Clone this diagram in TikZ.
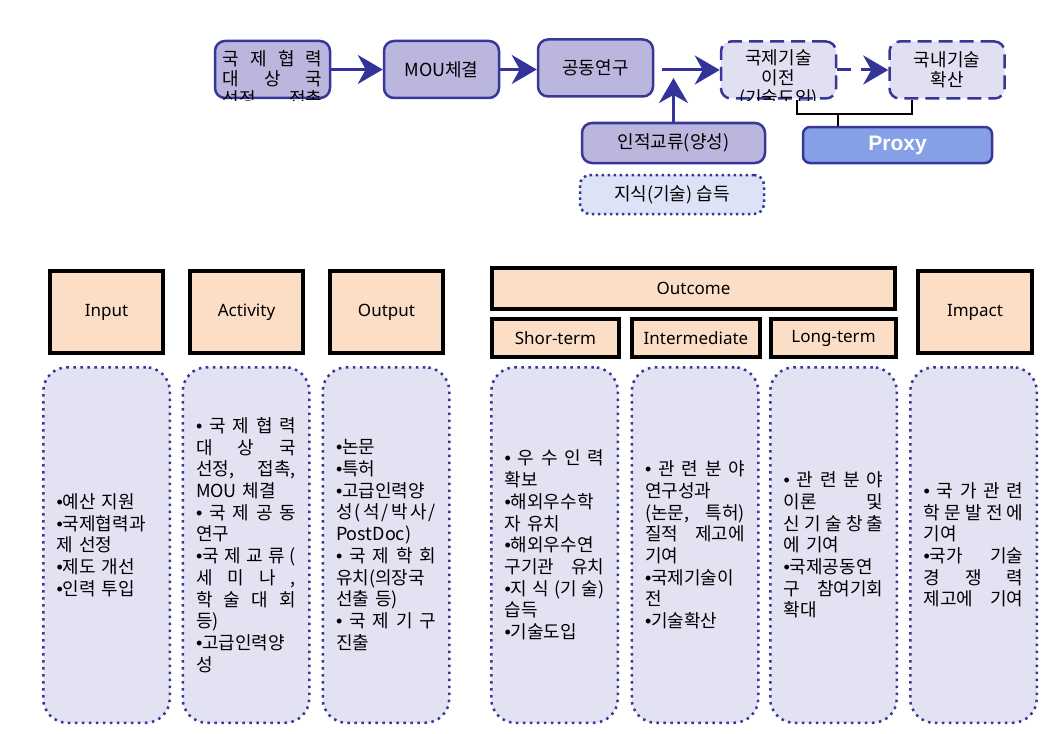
\documentclass[tikz,border=0pt]{standalone}
\usepackage{fontspec}
\setmainfont{Noto Sans}
\newfontfamily\kr{Noto Sans CJK KR}
\newfontfamily\bulf{Liberation Sans}
\newfontfamily\pxf{Liberation Sans}
\usetikzlibrary{arrows.meta}
\definecolor{lav}{HTML}{BAB6DE}
\definecolor{bord}{HTML}{37379A}
\definecolor{lite}{HTML}{E1E0F2}
\definecolor{bodyc}{HTML}{E3E2F3}
\definecolor{knowc}{HTML}{DEE2F6}
\definecolor{proxyc}{HTML}{86A0E8}
\definecolor{peach}{HTML}{FCDEC6}
\definecolor{arrc}{HTML}{333399}
\newlength\tw
\setlength\tw{100pt}
\newcommand\J[1]{\makebox[\tw][s]{\spaceskip=0pt plus 1fil\relax #1}}
\newcommand\bu{{\bulf •}}
\newcommand\bodyfont{\kr\fontsize{18}{21.7}\selectfont\spaceskip=7.5pt plus 3pt minus 1pt\relax}
\newcommand\topfont{\kr\fontsize{18}{20}\selectfont}
\begin{document}
\begin{tikzpicture}[x=1pt,y=-1pt,
 topbox/.style={rectangle, rounded corners=10pt, fill=lav, draw=bord, line width=2.5pt, minimum width=115pt, minimum height=57pt, inner sep=0pt, align=center, font=\topfont},
 dashbox/.style={topbox, fill=lite, dash pattern=on 14pt off 7pt},
 ttxt/.style={inner sep=0pt, align=center, font=\topfont},
 head/.style={rectangle, fill=peach, draw=black, line width=4pt, inner sep=0pt, font=\fontsize{17}{20}\selectfont},
 body/.style={rectangle, rounded corners=24pt, fill=bodyc, draw=bord, line width=2.5pt, dash pattern=on 2.5pt off 4.5pt, minimum width=126.5pt, minimum height=355.5pt, inner sep=0pt},
 btxt/.style={text width=\tw, align=left, inner sep=0pt, font=\bodyfont},
 arr/.style={draw=arrc, line width=3pt, -{Stealth[length=25pt,width=29pt,inset=8pt]}},
 brk/.style={draw=black, line width=2pt}]
\useasboundingbox (0,0) rectangle (1051,733);

% ---- top flow ----
\node[topbox] (b1) at (272.5,69.5) {};
\begin{scope}
 \clip[rounded corners=11pt] ([xshift=-1.25pt,yshift=-1.25pt]b1.south west) rectangle ([xshift=1.25pt,yshift=1.25pt]b1.north east);
 \node[ttxt, text width=\tw, align=left] (b1t) at (272.5,80) {\J{국 제 협 력}\\\J{대 상 국}\\\J{선정, 접촉}};
\end{scope}
\node[topbox] (b2) at (441.5,69.5) {MOU체결};
\node[topbox] (b3) at (595.5,68) {공동연구};
\node[dashbox] (b4) at (778.5,70) {};
\begin{scope}
 \clip[rounded corners=11pt] ([xshift=-1.25pt,yshift=-1.25pt]b4.south west) rectangle ([xshift=1.25pt,yshift=1.25pt]b4.north east);
 \node[ttxt] (b4t) at (778.5,79) {국제기술\\이전\\(기술도입)};
\end{scope}
\node[dashbox] (b5) at (947,70) {국내기술\\확산};
\node[topbox, minimum width=183pt, minimum height=40pt] (ppl) at (673.5,143) {인적교류(양성)};
\node[topbox, fill=knowc, dash pattern=on 2.5pt off 3.5pt, minimum width=184pt, minimum height=39pt] (know) at (672,194.5) {지식(기술) 습득};
\node[rectangle, rounded corners=7pt, fill=proxyc, draw=bord, line width=2.5pt, minimum width=189pt, minimum height=36pt, text=white, font=\pxf\bfseries\fontsize{21}{24}\selectfont] (proxy) at (897.5,145) {Proxy};

\draw[arr] (b1.east) -- (b2.west);
\draw[arr] (b2.east) -- (b2.east -| b3.west);
\draw[arr, shorten <=8pt] (b4.west -| b3.east) -- (b4.west);
\draw[arr, dash pattern=on 14pt off 10pt] (b4.east) -- (b5.west);
\draw[arr] (ppl.north) -- ([yshift=-8pt]ppl.north |- b4.west);

\coordinate (bj) at (838,114);
\draw[brk] ([xshift=18.5pt]b4.south) |- (bj) -| ([xshift=-35pt]b5.south);
\draw[brk] (bj) -- (bj |- proxy.north);

% ---- headers ----
\node[head, minimum width=113pt, minimum height=82pt] (inH) at (106.5,312) {Input};
\node[head, minimum width=113pt, minimum height=82pt] (actH) at (246.5,312) {Activity};
\node[head, minimum width=113pt, minimum height=82pt] (outH) at (386.5,312) {Output};
\node[head, minimum width=403pt, minimum height=41pt] (ocH) at (693.5,288.5) {Outcome};
\node[head, minimum width=127pt, minimum height=38pt] (shH) at (555.5,338) {Shor-term};
\node[head, minimum width=128pt, minimum height=38pt] (itH) at (696,338) {Intermediate};
\node[head, minimum width=125pt, minimum height=38pt] (lgH) at (833.5,338) {Long-term};
\node[head, minimum width=114pt, minimum height=82pt] (imH) at (975,312) {Impact};

% ---- bodies ----
\node[body] (inB) at (106.5,545) {};
\node[body] (actB) at (246,545) {};
\node[body] (outB) at (386,545) {};
\node[body] (shB) at (554.5,545) {};
\node[body] (itB) at (695,545) {};
\node[body] (lgB) at (833.5,545) {};
\node[body] (imB) at (973.5,545) {};

\node[btxt] (inT) at (inB.center) {\bu{}예산 지원\\\bu{}국제협력과\\제 선정\\\bu{}제도 개선\\\bu{}인력 투입};
\node[btxt] (actT) at (actB.center) {\J{\bu{} 국 제 협 력}\\\J{대 상 국}\\\J{선정, 접촉,}\\MOU 체결\\\J{\bu{} 국 제 공 동}\\연구\\\J{\bu{}국 제 교 류 (}\\\J{세 미 나 ,}\\\J{학 술 대 회}\\등)\\\bu{}고급인력양\\성};
\node[btxt] (outT) at (outB.center) {\bu{}논문\\\bu{}특허\\\bu{}고급인력양\\\J{성 ( 석 / 박 사 /}\\PostDoc)\\\J{\bu{} 국 제 학 회}\\유치(의장국\\선출 등)\\\J{\bu{} 국 제 기 구}\\진출};
\node[btxt] (shT) at (shB.center) {\J{\bu{} 우 수 인 력}\\확보\\\bu{}해외우수학\\자 유치\\\bu{}해외우수연\\\J{구기관 유치}\\\J{\bu{}지 식 (기 술)}\\습득\\\bu{}기술도입};
\node[btxt] (itT) at (itB.center) {\J{\bu{} 관 련 분 야}\\연구성과\\\J{(논문, 특허)}\\\J{질적 제고에}\\기여\\\bu{}국제기술이\\전\\\bu{}기술확산};
\node[btxt] (lgT) at (lgB.center) {\J{\bu{} 관 련 분 야}\\\J{이론 및}\\\J{신 기 술 창 출}\\에 기여\\\bu{}국제공동연\\\J{구 참여기회}\\확대};
\node[btxt] (imT) at (imB.center) {\J{\bu{} 국 가 관 련}\\\J{학 문 발 전 에}\\기여\\\J{\bu{}국가 기술}\\\J{경 쟁 력}\\\J{제고에 기여}};
\end{tikzpicture}
\end{document}
